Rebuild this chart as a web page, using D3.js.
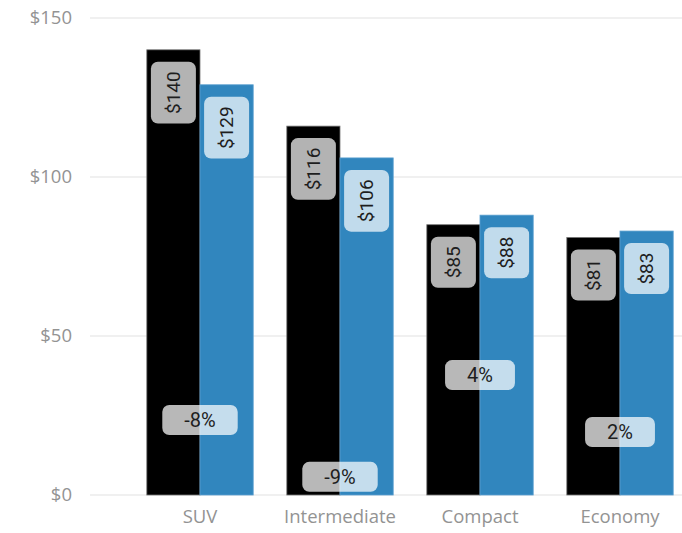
<!doctype html>
<html>
<head>
  <meta charset="utf-8" />
  <script src="https://d3js.org/d3.v7.min.js"></script>
  <style>
    body { margin: 0; background: #fff; }
    svg { display: block; }
    .tick-label { font-family: "Open Sans", sans-serif; font-size: 18.5px; fill: #939393; }
    .val-label { font-family: Roboto, sans-serif; font-size: 19px; fill: #1e1e1e; }
  </style>
</head>
<body>
  <svg></svg>
  <script>
    var categories = ["SUV", "Intermediate", "Compact", "Economy"],
      prior = [140, 116, 85, 81],
      current = [129, 106, 88, 83],
      pctChange = [-8, -9, 4, 2],
      pctAt = [23.6, 5.7, 37.7, 19.8],
      yTicks = [0, 50, 100, 150];

    var width = 682,
      height = 533;

    var svg = d3.select("svg").attr("width", width).attr("height", height);

    var y = d3.scaleLinear().domain([0, 150]).range([495, 18]);

    var x = d3.scaleBand()
      .domain(categories)
      .range([130, 690])
      .paddingInner(0.24)
      .paddingOuter(0.12);

    var xs = d3.scaleBand()
      .domain(["prior", "current"])
      .range([0, x.bandwidth()]);

    // grid + y labels
    svg.selectAll(".grid")
      .data(yTicks)
      .enter()
      .append("line")
      .attr("x1", 90)
      .attr("x2", width)
      .attr("y1", function(d) { return y(d); })
      .attr("y2", function(d) { return y(d); })
      .attr("stroke", "#ebebeb")
      .attr("stroke-width", 1.5);

    svg.selectAll(".ylab")
      .data(yTicks)
      .enter()
      .append("text")
      .attr("class", "tick-label")
      .attr("x", 72)
      .attr("y", function(d) { return y(d); })
      .attr("dy", "0.35em")
      .attr("text-anchor", "end")
      .text(function(d) { return "$" + d; });

    svg.selectAll(".xlab")
      .data(categories)
      .enter()
      .append("text")
      .attr("class", "tick-label")
      .attr("x", function(d) { return x(d) + x.bandwidth() / 2; })
      .attr("y", 523)
      .attr("text-anchor", "middle")
      .text(function(d) { return d; });

    var series = [
      { key: "prior", values: prior, color: "#000000", edge: "#777" },
      { key: "current", values: current, color: "#3186be", edge: "#5a9fcf" }
    ];

    series.forEach(function(s) {
      var g = svg.append("g");
      g.selectAll("rect")
        .data(s.values)
        .enter()
        .append("rect")
        .attr("x", function(d, i) { return x(categories[i]) + xs(s.key); })
        .attr("y", function(d) { return y(d); })
        .attr("width", xs.bandwidth())
        .attr("height", function(d) { return y(0) - y(d); })
        .attr("fill", s.color)
        .attr("stroke", s.edge)
        .attr("stroke-width", 0.8);
    });

    // rotated value labels
    series.forEach(function(s) {
      s.values.forEach(function(d, i) {
        var cx = x(categories[i]) + xs(s.key) + xs.bandwidth() / 2,
          top = y(d) + 12;
        var g = svg.append("g");
        var t = g.append("text")
          .attr("class", "val-label")
          .attr("text-anchor", "middle")
          .attr("dy", "0.36em")
          .text("$" + d);
        var len = t.node().getComputedTextLength(),
          h = len + 19;
        g.attr("transform", "translate(" + cx + "," + (top + h / 2) + ") rotate(-90)");
        g.insert("rect", "text")
          .attr("x", -h / 2)
          .attr("y", -22.5)
          .attr("width", h)
          .attr("height", 45)
          .attr("rx", 7)
          .attr("fill", "#fff")
          .attr("fill-opacity", 0.7);
      });
    });

    // percent change labels
    pctChange.forEach(function(p, i) {
      var cx = x(categories[i]) + x.bandwidth() / 2,
        cy = y(pctAt[i]);
      var g = svg.append("g").attr("transform", "translate(" + cx + "," + cy + ")");
      var t = g.append("text")
        .attr("class", "val-label")
        .attr("text-anchor", "middle")
        .attr("dy", "0.36em")
        .style("font-size", "20px")
        .text(p + "%");
      var w = t.node().getComputedTextLength() + 44;
      g.insert("rect", "text")
        .attr("x", -w / 2)
        .attr("y", -15)
        .attr("width", w)
        .attr("height", 30)
        .attr("rx", 7)
        .attr("fill", "#fff")
        .attr("fill-opacity", 0.72);
    });
  </script>
</body>
</html>
